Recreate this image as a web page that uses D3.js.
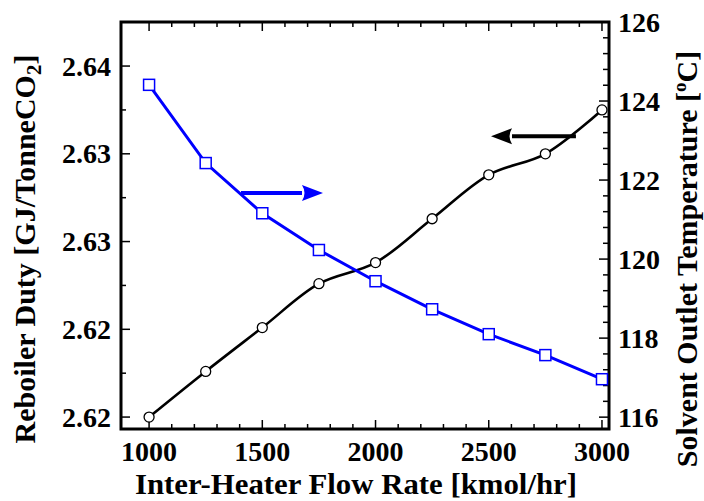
<!DOCTYPE html>
<html>
<head>
<meta charset="utf-8">
<script src="https://cdn.jsdelivr.net/npm/d3@7"></script>
<style>
  body { margin: 0; background: #fff; }
</style>
</head>
<body>
<div id="content"></div>
<script>
// flow rate of the inter-heater [kmol/hr]
const flowRate = [1000, 1250, 1500, 1750, 2000, 2250, 2500, 2750, 3000];
// reboiler duty, left axis [GJ/TonneCO2]
const reboilerDuty = [2.6200, 2.6226, 2.6251, 2.6276, 2.6288, 2.6313, 2.6338, 2.6350, 2.6375];
// solvent outlet temperature, right axis [C]
const solventTemp = [124.41, 122.43, 121.16, 120.23, 119.44, 118.73, 118.10, 117.57, 116.96];

const xTicks = [1000, 1500, 2000, 2500, 3000];
const dutyTicks = [2.620, 2.625, 2.630, 2.635, 2.640];
const dutyTickLabels = ["2.62", "2.62", "2.63", "2.63", "2.64"];
const tempTicks = [116, 118, 120, 122, 124, 126];

// arrows telling which curve belongs to which axis
const tempArrow = {x0: 1406, x1: 1768, y: 121.67};
const dutyArrow = {x0: 2885, x1: 2510, y: 2.6360};

const W = 704, H = 501;
const L = 121, R = 609, T = 22, B = 429;
const FONT = "'Liberation Serif', 'Times New Roman', Times, serif";

const svg = d3.select("#content").append("svg")
    .attr("width", W).attr("height", H)
    .attr("font-family", FONT)
    .attr("font-weight", "bold");

const x = d3.scaleLinear().domain([876, 3031]).range([L, R]);
const yL = d3.scaleLinear().domain([2.61932, 2.64251]).range([B, T]);
const yR = d3.scaleLinear().domain([115.70, 126]).range([B, T]);

const ticksG = svg.append("g").attr("stroke", "#000").attr("stroke-width", 1.5);

// x ticks bottom + top
d3.range(1000, 3001, 100).forEach(v => {
    const major = v % 500 == 0;
    const len = major ? 9 : 5;
    ticksG.append("line").attr("x1", x(v)).attr("x2", x(v)).attr("y1", B).attr("y2", B - len);
    ticksG.append("line").attr("x1", x(v)).attr("x2", x(v)).attr("y1", T).attr("y2", T + len);
});
// left ticks
d3.range(0, 9).map(i => 2.620 + i * 0.0025).forEach((v, i) => {
    const len = i % 2 == 0 ? 9 : 5;
    ticksG.append("line").attr("x1", L).attr("x2", L + len).attr("y1", yL(v)).attr("y2", yL(v));
});
// right ticks
d3.range(0, 26).map(i => 116 + i * 0.4).forEach((v, i) => {
    const len = i % 5 == 0 ? 10 : 6;
    ticksG.append("line").attr("x1", R).attr("x2", R - len).attr("y1", yR(v)).attr("y2", yR(v));
});

// frame
svg.append("rect")
    .attr("x", L).attr("y", T).attr("width", R - L).attr("height", B - T)
    .attr("fill", "none").attr("stroke", "#000").attr("stroke-width", 3);

// tick labels
svg.selectAll(".xl").data(xTicks).enter().append("text")
    .attr("x", d => x(d)).attr("y", 461)
    .attr("text-anchor", "middle").attr("font-size", 28)
    .text(d => d);
svg.selectAll(".yl").data(dutyTicks).enter().append("text")
    .attr("x", L - 10).attr("y", d => yL(d)).attr("dy", "0.34em")
    .attr("text-anchor", "end").attr("font-size", 28)
    .text((d, i) => dutyTickLabels[i]);
svg.selectAll(".yr").data(tempTicks).enter().append("text")
    .attr("x", R + 9).attr("y", d => yR(d)).attr("dy", "0.34em")
    .attr("text-anchor", "start").attr("font-size", 28)
    .text(d => d);

// axis titles
svg.append("text")
    .attr("x", 356).attr("y", 494).attr("text-anchor", "middle").attr("font-size", 30)
    .attr("textLength", 442).attr("lengthAdjust", "spacingAndGlyphs")
    .text("Inter-Heater Flow Rate [kmol/hr]");

const lt = svg.append("text")
    .attr("transform", "translate(35,249) rotate(-90)")
    .attr("text-anchor", "middle").attr("font-size", 30);
lt.append("tspan").text("Reboiler Duty [GJ/TonneCO");
lt.append("tspan").attr("font-size", 21).attr("dy", 6).text("2");
lt.append("tspan").attr("dy", -6).text("]");

const rt = svg.append("text")
    .attr("transform", "translate(697,259) rotate(-90)")
    .attr("text-anchor", "middle").attr("font-size", 30);
rt.append("tspan").text("Solvent Outlet Temperature [");
rt.append("tspan").attr("font-size", 19).attr("dy", -11).text("o");
rt.append("tspan").attr("dy", 11).text("C]");

// series
const pts = flowRate.map((f, i) => ({f, duty: reboilerDuty[i], temp: solventTemp[i]}));

svg.append("path")
    .attr("d", d3.line().x(d => x(d.f)).y(d => yL(d.duty)).curve(d3.curveCatmullRom)(pts))
    .attr("fill", "none").attr("stroke", "#000").attr("stroke-width", 2.6);

svg.append("path")
    .attr("d", d3.line().x(d => x(d.f)).y(d => yR(d.temp))(pts))
    .attr("fill", "none").attr("stroke", "#0000ff").attr("stroke-width", 3);

svg.selectAll(".circ").data(pts).enter().append("circle")
    .attr("cx", d => x(d.f)).attr("cy", d => yL(d.duty)).attr("r", 5)
    .attr("fill", "#fff").attr("stroke", "#000").attr("stroke-width", 1.3);

svg.selectAll(".sq").data(pts).enter().append("rect")
    .attr("x", d => x(d.f) - 5.5).attr("y", d => yR(d.temp) - 5.5)
    .attr("width", 11).attr("height", 11)
    .attr("fill", "#fff").attr("stroke", "#0000ff").attr("stroke-width", 1.5);

// arrows
function arrow(x0, x1, y, color) {
    const dir = Math.sign(x1 - x0), head = 21, half = 8;
    svg.append("line")
        .attr("x1", x0).attr("x2", x1 - dir * head).attr("y1", y).attr("y2", y)
        .attr("stroke", color).attr("stroke-width", 4);
    svg.append("path")
        .attr("d", `M${x1},${y} L${x1 - dir * head},${y - half} Q${x1 - dir * (head - 5)},${y} ${x1 - dir * head},${y + half} Z`)
        .attr("fill", color);
}
arrow(x(tempArrow.x0), x(tempArrow.x1), yR(tempArrow.y), "#0000ff");
arrow(x(dutyArrow.x0), x(dutyArrow.x1), yL(dutyArrow.y), "#000");
</script>
</body>
</html>
